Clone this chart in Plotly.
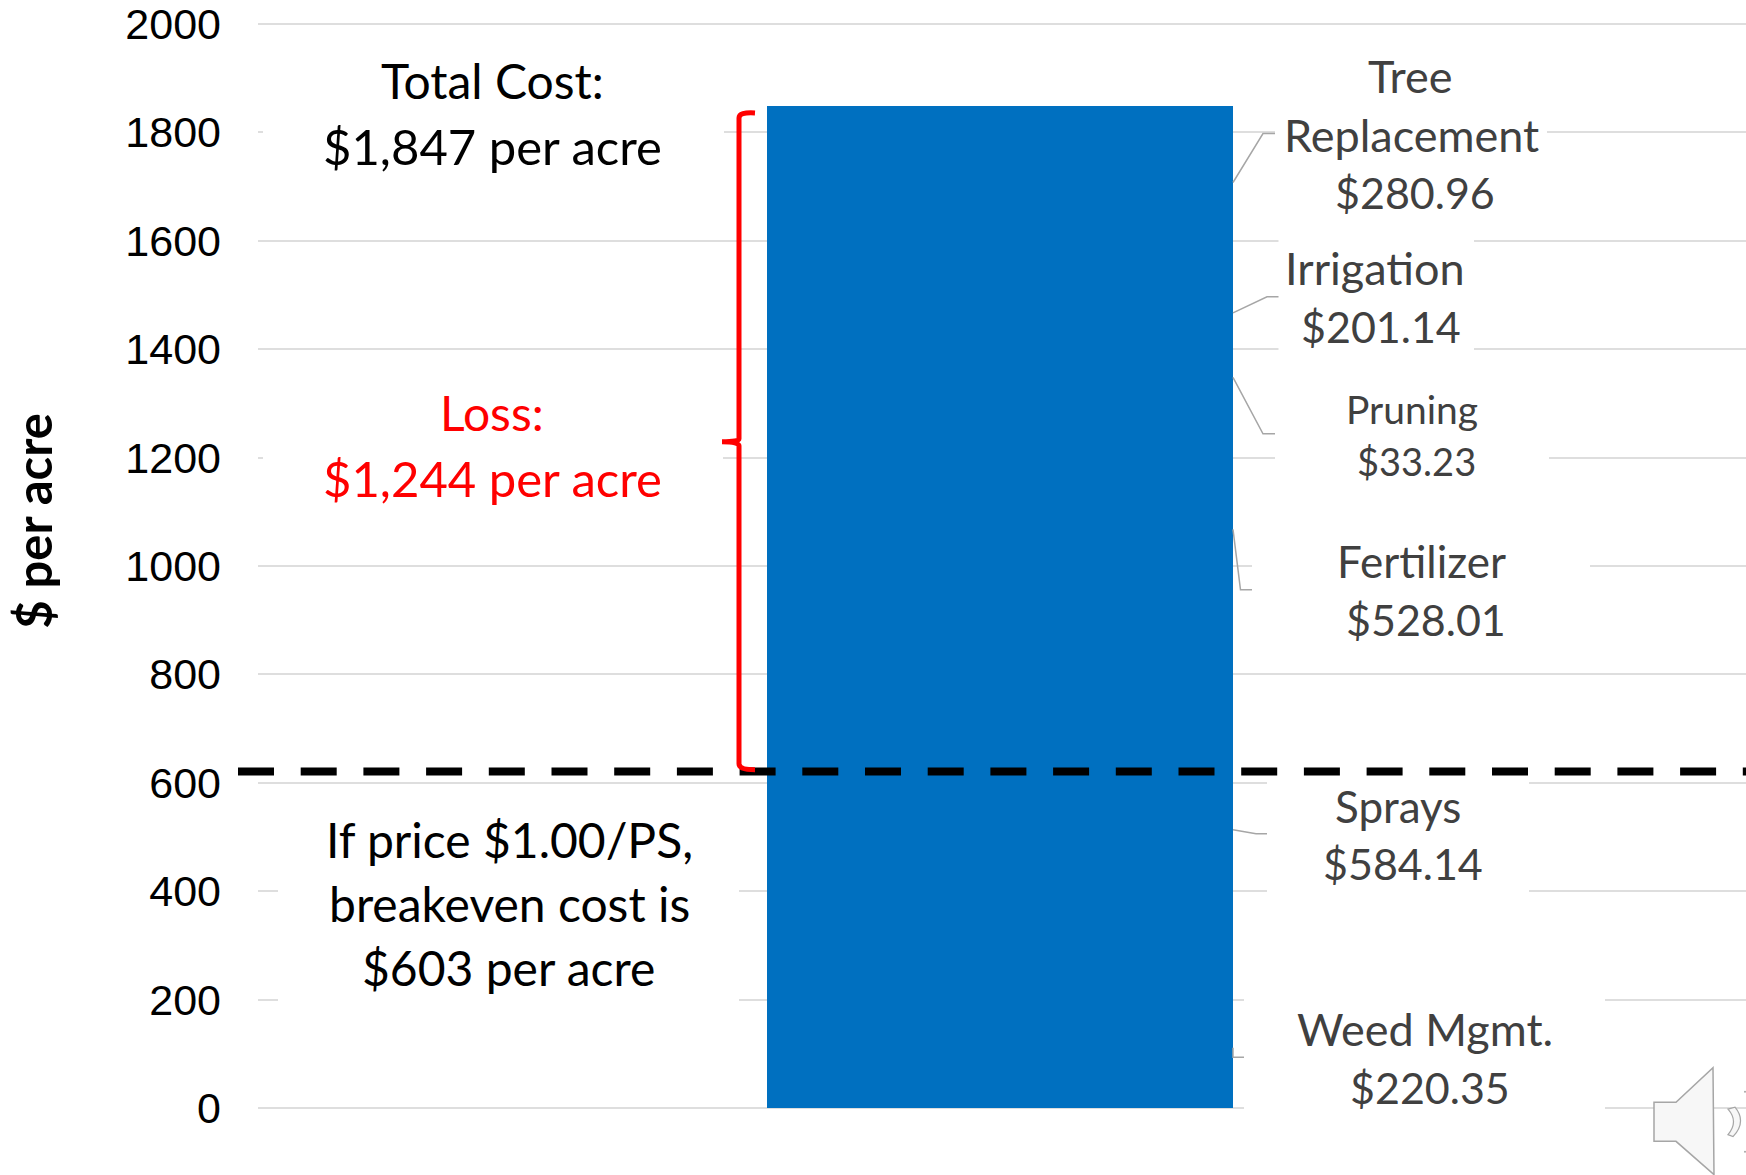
import plotly.graph_objects as go

# ---- data ----
categories = ["Weed Mgmt.", "Sprays", "Fertilizer", "Pruning", "Irrigation", "Tree Replacement"]
values = [220.35, 584.14, 528.01, 33.23, 201.14, 280.96]
y_ticks = [0, 200, 400, 600, 800, 1000, 1200, 1400, 1600, 1800, 2000]
line_value = 621
total_cost = 1847
bar_x = [0]

W, H = 1746, 1175
OFF = 30  # extra canvas above the visible page so the top tick label is kept
L, R = 258, 1746
PX_PER_UNIT = 0.5423
Y0_PX = 1108.5
PAD = 20
T_PX = Y0_PX - (2000 + PAD) * PX_PER_UNIT
B_PX = Y0_PX + PAD * PX_PER_UNIT
BAR_L, BAR_R = 767, 1233

def dx(px): return (px - (BAR_L + BAR_R) / 2) / (BAR_R - BAR_L)
def dy(py): return (Y0_PX - py) / PX_PER_UNIT
def fx(px): return (px - L) / (R - L)
def fy(py): return (B_PX - py) / (B_PX - T_PX)

DARK = "#404040"
BLK = "#000000"
RED = "#FF0000"
LAT = "Lato"
# text, cx, cy, size, colour
labels = [
    ("Total Cost:", 492, 81, 48, BLK),
    ("$1,847 per acre", 492, 146, 49, BLK),
    ("Loss:", 492, 413, 48, RED),
    ("$1,244 per acre", 492, 478, 49, RED),
    ("If price $1.00/PS,", 509, 840, 48, BLK),
    ("breakeven cost is", 509, 904, 48, BLK),
    ("$603 per acre", 508, 968, 48, BLK),
    ("Tree", 1410, 76, 45, DARK),
    ("Replacement", 1411, 135, 45, DARK),
    ("$280.96", 1415, 193, 43, DARK),
    ("Irrigation", 1375, 268, 45, DARK),
    ("$201.14", 1381, 327, 43, DARK),
    ("Pruning", 1412, 409, 39, DARK),
    ("$33.23", 1416, 461, 38, DARK),
    ("Fertilizer", 1421, 561, 44, DARK),
    ("$528.01", 1426, 620, 43, DARK),
    ("Sprays", 1397.5, 806, 44, DARK),
    ("$584.14", 1403, 864, 43, DARK),
    ("Weed Mgmt.", 1425, 1029, 45, DARK),
    ("$220.35", 1430, 1088, 43, DARK),
]

fig = go.Figure()
for name, v in zip(categories, values):
    fig.add_trace(go.Bar(x=bar_x, y=[v], name=name, width=1,
                         marker=dict(color="#0070C0", line=dict(width=0))))

shapes = []
# white label boxes hiding the gridlines
for x0, x1, y0, y1 in [
    (263, 724, 60, 190), (263, 723, 395, 510), (278, 739, 800, 1020),
    (1275, 1547, 60, 215), (1278.5, 1474, 225, 365), (1275, 1549, 400, 490),
    (1252, 1590, 530, 650), (1267, 1529, 775, 900), (1244, 1605, 985, 1118),
]:
    shapes.append(dict(type="rect", xref="x", yref="y", layer="between",
                       x0=dx(x0), x1=dx(x1), y0=dy(y0), y1=dy(y1),
                       fillcolor="white", line=dict(width=0)))
# leader lines
for pts in [
    [(1233, 182.6), (1263, 133.6), (1275, 133.6)],
    [(1233, 313), (1267, 297), (1278.5, 297)],
    [(1233, 377.5), (1263, 434), (1275, 434)],
    [(1233, 529.6), (1240.5, 590), (1252, 590)],
    [(1233, 830), (1256, 834), (1267, 834)],
    [(1233, 1048), (1233, 1057.7), (1244, 1057.7)],
]:
    path = "M " + " L ".join(f"{fx(a):.5f},{fy(b):.5f}" for a, b in pts)
    shapes.append(dict(type="path", xref="paper", yref="paper", path=path,
                       line=dict(color="#A6A6A6", width=1.5)))
# dashed line
shapes.append(dict(type="line", xref="paper", yref="y", x0=fx(238), x1=1,
                   y0=line_value, y1=line_value,
                   line=dict(color="black", width=8, dash="36px,26.7px")))
# red brace
brace = (f"M {fx(755)},{fy(113)} Q {fx(739)},{fy(112)} {fx(739)},{fy(118)} "
         f"L {fx(739)},{fy(439)} Q {fx(739)},{fy(442)} {fx(722)},{fy(442)} "
         f"Q {fx(739)},{fy(442)} {fx(739)},{fy(446)} "
         f"L {fx(739)},{fy(764)} Q {fx(739)},{fy(770)} {fx(755)},{fy(770)}")
shapes.append(dict(type="path", xref="paper", yref="paper", path=brace,
                   line=dict(color=RED, width=5)))
# speaker icon
def poly(pts, close=True):
    return "M " + " L ".join(f"{fx(a):.5f},{fy(b):.5f}" for a, b in pts) + (" Z" if close else "")
shapes.append(dict(type="path", xref="paper", yref="paper",
                   path=poly([(1654, 1102.7), (1676, 1102.7), (1713, 1068), (1714, 1175),
                              (1676, 1141.7), (1654, 1141.7)]),
                   fillcolor="#F7F7F7", line=dict(color="#A6A6A6", width=1.5)))
shapes.append(dict(type="path", xref="paper", yref="paper",
                   path=(f"M {fx(1728)},{fy(1109.5)} L {fx(1735)},{fy(1107.5)} "
                         f"Q {fx(1747)},{fy(1122)} {fx(1733)},{fy(1137)} L {fx(1728)},{fy(1135)} "
                         f"Q {fx(1739)},{fy(1122)} {fx(1728)},{fy(1109.5)} Z"),
                   fillcolor="#F7F7F7", line=dict(color="#A6A6A6", width=1.2)))
for cy in (1092, 1152):
    shapes.append(dict(type="circle", xref="paper", yref="paper",
                       x0=fx(1744), x1=fx(1746), y0=fy(cy - 1), y1=fy(cy + 1),
                       fillcolor="#A6A6A6", line=dict(width=0)))

annotations = [dict(text=t, x=fx(cx), y=fy(cy), xref="paper", yref="paper",
                    xanchor="center", yanchor="middle", showarrow=False,
                    font=dict(family=LAT, size=s, color=c))
               for t, cx, cy, s, c in labels]
annotations.append(dict(text="<b>$ per acre</b>", x=fx(33), y=fy(521), xref="paper", yref="paper",
                        xanchor="center", yanchor="middle", showarrow=False, textangle=-90,
                        font=dict(family=LAT, size=49, color=BLK)))

fig.update_layout(
    width=W, height=H + OFF, barmode="stack", showlegend=False,
    paper_bgcolor="white", plot_bgcolor="white",
    margin=dict(l=L, r=W - R, t=T_PX + OFF, b=H - B_PX, autoexpand=False),
    xaxis=dict(range=[dx(L), dx(R)], visible=False, fixedrange=True),
    yaxis=dict(range=[-PAD, 2000 + PAD], tickvals=y_ticks, ticktext=[str(v) for v in y_ticks],
               showgrid=True, gridcolor="#DEDEDE", gridwidth=2, zeroline=False, showline=False,
               ticks="", ticklabelstandoff=36,
               tickfont=dict(family="Liberation Sans", size=43, color="black")),
    shapes=shapes, annotations=annotations,
)
fig.write_html("out.html", config=dict(displayModeBar=False),
               post_script=f"document.body.style.margin='-{OFF}px 0 0 0';"
                           "document.documentElement.style.overflow='hidden';")
